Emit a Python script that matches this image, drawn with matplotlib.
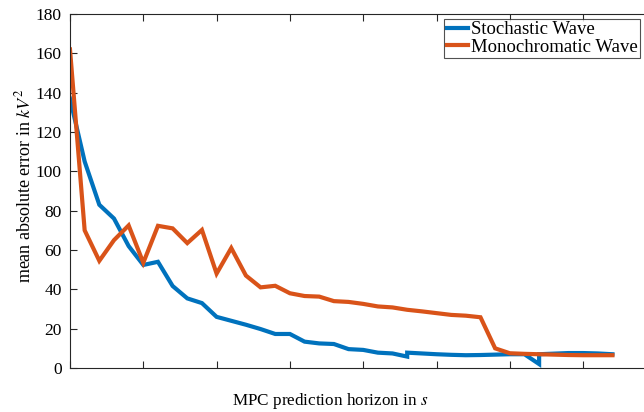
import matplotlib
matplotlib.use("Agg")
import matplotlib.pyplot as plt

plt.rcParams['font.family'] = ['Liberation Serif', 'DejaVu Serif']
plt.rcParams['mathtext.fontset'] = 'stix'

# Prediction horizon index (ticks every 5 steps, no tick labels)
orange_x = list(range(38))
orange_y = [162, 70, 54.5, 65, 72.5, 53.5, 72.3, 71, 63.5, 70.2,
            48, 61, 47, 41, 41.8, 38, 36.6, 36.3, 34, 33.6,
            32.6, 31.3, 30.8, 29.6, 28.8, 27.9, 27.0, 26.6, 25.8, 10,
            7.5, 7.2, 7.0, 6.8, 6.6, 6.5, 6.5, 6.5]

blue_x = [0, 1, 2, 3, 4, 5, 6, 7, 8, 9,
          10, 11, 12, 13, 14, 15, 16, 17, 18, 19,
          20, 21, 22, 23, 23, 24, 25, 26, 27, 28,
          29, 30, 31, 32, 32, 33, 34, 35, 36, 37]
blue_y = [137, 105, 83, 76, 62, 52.4, 54, 41.7, 35.4, 33,
          26, 24, 22, 19.8, 17.3, 17.3, 13.4, 12.5, 12.2, 9.6,
          9.2, 7.8, 7.4, 5.8, 7.8, 7.4, 7.0, 6.7, 6.5, 6.6,
          6.8, 7.0, 7.0, 2.0, 7.0, 7.3, 7.6, 7.6, 7.4, 7.0]

labels = ['Stochastic Wave', 'Monochromatic Wave']
colors = ['#0072BD', '#D95319']
y_ticks = list(range(0, 181, 20))
x_ticks = list(range(0, 41, 5))

fig = plt.figure(figsize=(6.44, 4.12), dpi=100)
ax = fig.add_axes([70/644, 1-368/412, 586.4/644, 354/412])

ax.plot(blue_x, blue_y, color=colors[0], lw=3, label=labels[0], solid_joinstyle='miter')
ax.plot(orange_x, orange_y, color=colors[1], lw=3, label=labels[1], solid_joinstyle='miter')

ax.set_xlim(0, 40)
ax.set_ylim(0, 180)
ax.set_yticks(y_ticks)
ax.set_xticks(x_ticks)
ax.set_xticklabels([])
ax.tick_params(direction='in', length=5, width=0.8, top=True, right=True,
               labelsize=12.5, colors='#262626', pad=6)
ax.tick_params(axis='y', labelcolor='black')
for s in ax.spines.values():
    s.set_color('#262626')
    s.set_linewidth(0.8)

ax.set_xlabel('MPC prediction horizon in $s$', fontsize=12.3)
ax.xaxis.set_label_coords((330-70)/586.4, (368-391)/354)
ax.set_ylabel('mean absolute error in $kV^2$', fontsize=13)
ax.yaxis.set_label_coords((34-70)/586.4, 0.515)

leg = ax.legend(loc='upper right', bbox_to_anchor=((640-70)/586.4, (368-19)/354),
                fontsize=13.5, frameon=True, fancybox=False, handlelength=1.15,
                handletextpad=0.15, borderpad=0.12, labelspacing=0.0,
                borderaxespad=0, edgecolor='#262626')
leg.get_frame().set_linewidth(0.8)

fig.savefig('out.png', dpi=100)
